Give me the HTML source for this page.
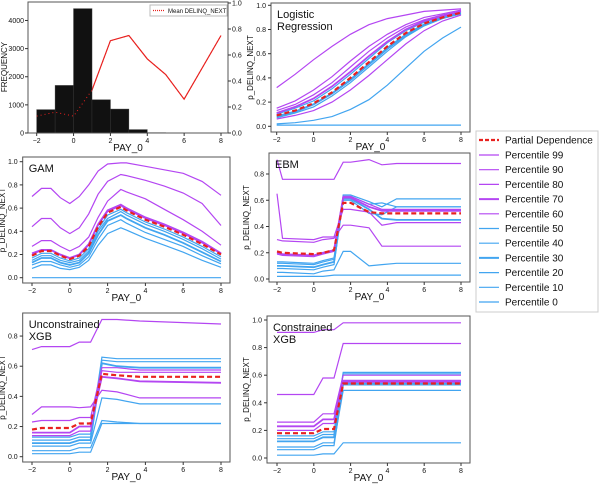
<!DOCTYPE html>
<html><head><meta charset="utf-8"><style>
body{margin:0;background:#fff;width:600px;height:486px;overflow:hidden;font-family:"Liberation Sans",sans-serif}
svg text{font-family:"Liberation Sans",sans-serif}
</style></head><body>
<svg id="c" width="600" height="486" xmlns="http://www.w3.org/2000/svg"></svg>
<script>
// ---- histogram panel data ----
const histBins = [-2,-1,0,1,2,3,4,5];
const histCounts = [830,1690,4420,1180,850,120,12,5];
const meanX = [-2,-1,0,1,2,3,4,5,6,8];
const meanY = [0.13,0.16,0.13,0.33,0.71,0.75,0.57,0.45,0.26,0.75];
const freqTicks = [0,1000,2000,3000,4000];
const xTicks = [-2,0,2,4,6,8];
const seriesNames = ['Partial Dependence','Percentile 99','Percentile 90','Percentile 80','Percentile 70','Percentile 60','Percentile 50','Percentile 40','Percentile 30','Percentile 20','Percentile 10','Percentile 0'];
// ---- Logistic Regression ----
const lrX = [-2,-1,0,1,2,3,4,5,6,7,8];
const lrPD = [0.09,0.13,0.19,0.28,0.40,0.53,0.66,0.77,0.85,0.90,0.94];
const lr99 = [0.32,0.43,0.55,0.66,0.76,0.84,0.89,0.92,0.95,0.96,0.97];
const lr90 = [0.15,0.21,0.30,0.41,0.54,0.66,0.76,0.84,0.90,0.93,0.96];
const lr80 = [0.13,0.18,0.26,0.36,0.49,0.62,0.73,0.82,0.88,0.92,0.95];
const lr70 = [0.11,0.16,0.23,0.33,0.45,0.58,0.70,0.80,0.87,0.91,0.95];
const lr60 = [0.06,0.09,0.13,0.20,0.30,0.42,0.55,0.68,0.79,0.87,0.92];
const lr50 = [0.10,0.15,0.21,0.31,0.43,0.56,0.69,0.79,0.86,0.91,0.94];
const lr40 = [0.085,0.125,0.185,0.275,0.39,0.52,0.65,0.76,0.845,0.90,0.935];
const lr30 = [0.08,0.12,0.18,0.27,0.38,0.51,0.64,0.75,0.84,0.90,0.93];
const lr20 = [0.07,0.11,0.16,0.25,0.36,0.49,0.62,0.74,0.83,0.89,0.93];
const lr10 = [0.02,0.03,0.05,0.08,0.14,0.22,0.34,0.48,0.62,0.73,0.82];
const lr0 = [0.01,0.01,0.01,0.01,0.01,0.01,0.01,0.01,0.01,0.01,0.01];
// ---- GAM ----
const gamX = [-2,-1.5,-1,-0.5,0,0.5,1,1.5,2,2.7,3,4,5,6,7,8];
const gamPD = [0.19,0.23,0.23,0.19,0.16,0.19,0.27,0.44,0.56,0.61,0.58,0.50,0.44,0.37,0.29,0.20];
const gam99 = [0.70,0.77,0.77,0.69,0.64,0.70,0.80,0.92,0.98,0.99,0.99,0.96,0.93,0.90,0.83,0.71];
const gam90 = [0.44,0.51,0.51,0.43,0.38,0.43,0.55,0.72,0.83,0.89,0.88,0.84,0.79,0.73,0.64,0.45];
const gam80 = [0.27,0.32,0.32,0.27,0.23,0.27,0.35,0.52,0.66,0.76,0.74,0.68,0.59,0.50,0.40,0.28];
const gam70 = [0.21,0.24,0.24,0.20,0.17,0.20,0.29,0.46,0.58,0.63,0.60,0.52,0.46,0.39,0.31,0.21];
const gam60 = [0.20,0.235,0.235,0.195,0.165,0.195,0.28,0.45,0.57,0.62,0.59,0.51,0.45,0.38,0.30,0.205];
const gam50 = [0.17,0.21,0.21,0.17,0.145,0.17,0.25,0.42,0.54,0.59,0.56,0.48,0.42,0.35,0.27,0.18];
const gam40 = [0.15,0.19,0.19,0.15,0.13,0.15,0.23,0.40,0.51,0.57,0.54,0.46,0.40,0.33,0.25,0.16];
const gam30 = [0.13,0.17,0.17,0.13,0.11,0.13,0.21,0.37,0.49,0.54,0.51,0.43,0.37,0.30,0.22,0.14];
const gam20 = [0.11,0.14,0.14,0.11,0.09,0.11,0.18,0.33,0.45,0.50,0.47,0.39,0.33,0.27,0.19,0.12];
const gam10 = [0.08,0.11,0.11,0.08,0.07,0.09,0.15,0.28,0.38,0.43,0.41,0.34,0.28,0.22,0.15,0.09];
const gam0 = [0,0,0,0,0,0,0,0,0,0,0,0,0,0,0,0];
// ---- EBM ----
const ebmX = [-2,-1.7,0,0.5,1.1,1.6,2,3,3.7,4.5,8];
const ebmPD = [0.21,0.20,0.19,0.20,0.22,0.58,0.58,0.51,0.50,0.50,0.50];
const ebm99 = [0.91,0.76,0.76,0.76,0.76,0.89,0.89,0.91,0.87,0.88,0.88];
const ebm90 = [0.65,0.31,0.30,0.32,0.32,0.53,0.53,0.51,0.41,0.43,0.43];
const ebm80 = [0.30,0.29,0.28,0.30,0.31,0.41,0.41,0.39,0.25,0.25,0.25];
const ebm70 = [0.20,0.19,0.18,0.20,0.22,0.62,0.62,0.55,0.52,0.52,0.52];
const ebm60 = [0.19,0.18,0.17,0.19,0.21,0.63,0.63,0.57,0.53,0.53,0.53];
const ebm50 = [0.13,0.13,0.12,0.14,0.16,0.64,0.64,0.59,0.55,0.61,0.61];
const ebm40 = [0.12,0.12,0.11,0.13,0.15,0.63,0.63,0.57,0.58,0.55,0.55];
const ebm30 = [0.10,0.10,0.09,0.11,0.13,0.61,0.61,0.53,0.46,0.45,0.45];
const ebm20 = [0.08,0.08,0.07,0.09,0.11,0.60,0.60,0.50,0.49,0.55,0.55];
const ebm10 = [0.05,0.05,0.04,0.06,0.07,0.21,0.21,0.10,0.11,0.12,0.12];
const ebm0 = [0.02,0.02,0.02,0.02,0.03,0.03,0.03,0.03,0.03,0.03,0.03];
// ---- Unconstrained XGB ----
const uxX = [-2,-1.5,0,0.5,1.1,1.7,2.5,3.7,8];
const uxPD = [0.18,0.19,0.19,0.22,0.22,0.55,0.54,0.53,0.53];
const ux99 = [0.71,0.73,0.73,0.76,0.76,0.91,0.91,0.90,0.88];
const ux90 = [0.28,0.33,0.33,0.325,0.33,0.44,0.43,0.39,0.39];
const ux80 = [0.23,0.24,0.24,0.26,0.26,0.59,0.59,0.575,0.575];
const ux70 = [0.16,0.16,0.16,0.20,0.20,0.53,0.52,0.50,0.49];
const ux60 = [0.14,0.14,0.14,0.17,0.17,0.57,0.56,0.56,0.56];
const ux50 = [0.13,0.13,0.13,0.15,0.15,0.66,0.65,0.65,0.65];
const ux40 = [0.11,0.11,0.11,0.13,0.13,0.64,0.63,0.63,0.63];
const ux30 = [0.09,0.09,0.09,0.11,0.11,0.62,0.60,0.59,0.59];
const ux20 = [0.07,0.07,0.07,0.09,0.09,0.39,0.38,0.35,0.35];
const ux10 = [0.04,0.04,0.04,0.06,0.06,0.24,0.23,0.22,0.22];
const ux0 = [0.02,0.02,0.02,0.03,0.03,0.22,0.22,0.22,0.22];
// ---- Constrained XGB ----
const cxX = [-2,0,0.5,1.1,1.6,8];
const cxPD = [0.18,0.18,0.21,0.21,0.54,0.54];
const cx99 = [0.91,0.91,0.93,0.93,0.98,0.98];
const cx90 = [0.46,0.46,0.58,0.58,0.83,0.83];
const cx80 = [0.26,0.26,0.32,0.32,0.60,0.60];
const cx70 = [0.23,0.23,0.28,0.28,0.56,0.56];
const cx60 = [0.20,0.20,0.25,0.25,0.55,0.55];
const cx50 = [0.16,0.16,0.19,0.19,0.62,0.62];
const cx40 = [0.14,0.14,0.17,0.17,0.61,0.61];
const cx30 = [0.12,0.12,0.15,0.15,0.54,0.54];
const cx20 = [0.08,0.08,0.11,0.11,0.49,0.49];
const cx10 = [0.06,0.06,0.09,0.09,0.53,0.53];
const cx0 = [0.02,0.02,0.03,0.03,0.11,0.11];

const NS='http://www.w3.org/2000/svg';
const svg=document.getElementById('c');
const PUR='#b446f2', BLU='#42a5f0', RED='#e8211f';
function mk(tag,attrs,parent){const e=document.createElementNS(NS,tag);for(const k in attrs)e.setAttribute(k,attrs[k]);(parent||svg).appendChild(e);return e;}
function txt(s,x,y,size,anchor,parent,rot){const t=mk('text',{x:x,y:y,'font-size':size,'text-anchor':anchor||'start',fill:'#111'},parent);if(rot)t.setAttribute('transform','rotate(-90 '+x+' '+y+')');t.textContent=s;return t;}

function panel(name,box,xs,ys,yTicks,title,X,ser,ylabX){
  const g=mk('g',{});
  
  
  const fx=v=>xs[0]+(v+2)*xs[1], fy=v=>ys[0]-v*ys[1];
  const cols=[RED,PUR,PUR,PUR,PUR,PUR,BLU,BLU,BLU,BLU,BLU,BLU];
  for(let i=ser.length-1;i>=0;i--){
    const pts=X.map((x,j)=>fx(x).toFixed(1)+','+fy(ser[i][j]).toFixed(1)).join(' ');
    const pl=mk('polyline',{points:pts,fill:'none',stroke:cols[i],'stroke-width':i==0?2.2:(i==4||i==8?1.8:1.2)},g);
    if(i==0)pl.setAttribute('stroke-dasharray','5,3');
    
    
  }
  mk('rect',{x:box[0],y:box[1],width:box[2]-box[0],height:box[3]-box[1],fill:'none',stroke:'#555','stroke-width':1},g);
  xTicks.forEach(v=>{const x=fx(v);mk('line',{x1:x,x2:x,y1:box[3],y2:box[3]+3,stroke:'#333'},g);txt(v<0?'−'+(-v):String(v),x,box[3]+10,7,'middle',g);});
  yTicks.forEach(v=>{const y=fy(v);mk('line',{x1:box[0]-3,x2:box[0],y1:y,y2:y,stroke:'#333'},g);txt(v.toFixed(1),box[0]-5,y+2.5,7,'end',g);});
  const xl=txt('PAY_0',(box[0]+box[2])/2,box[3]+18,10,'middle',g);
  
  const yl=txt('p_DELINQ_NEXT',ylabX,(box[1]+box[3])/2,8,'middle',g,true);
  
  title.forEach((s,k)=>{const t=txt(s,box[0]+6,box[1]+15+k*12,11,'start',g);});
}

// ---- histogram panel ----
(function(){
  const g=mk('g',{});
  
  
  const fx=v=>36.7+(v+2)*18.43, fyL=v=>133-v*0.02813, fyR=v=>133-v*130;
  const mpts=meanX.map((x,j)=>fx(x).toFixed(1)+','+fyR(meanY[j]).toFixed(1)).join(' ');
  mk('polyline',{points:mpts,fill:'none',stroke:RED,'stroke-width':1.2},g);
  histBins.forEach((b,i)=>{
    const r=mk('rect',{x:fx(b),y:fyL(histCounts[i]),width:fx(b+1)-fx(b),height:133-fyL(histCounts[i]),fill:'#111',stroke:'#333','stroke-width':0.5},g);
    
    
  });
  const ml=mk('polyline',{points:mpts,fill:'none',stroke:RED,'stroke-width':1,'stroke-dasharray':'1,3'},g);
  
  
  mk('rect',{x:28,y:2,width:200,height:131,fill:'none',stroke:'#555'},g);
  xTicks.forEach(v=>{const x=fx(v);mk('line',{x1:x,x2:x,y1:133,y2:136,stroke:'#333'},g);txt(v<0?'−'+(-v):String(v),x,143,7,'middle',g);});
  freqTicks.forEach(v=>{const y=fyL(v);mk('line',{x1:25,x2:28,y1:y,y2:y,stroke:'#333'},g);txt(String(v),24,y+2.5,7,'end',g);});
  [0,0.2,0.4,0.6,0.8,1.0].forEach(v=>{const y=fyR(v);mk('line',{x1:228,x2:231,y1:y,y2:y,stroke:'#333'},g);txt(v.toFixed(1),232,y+2.5,7,'start',g);});
  txt('PAY_0',128,151,10,'middle',g);
  txt('FREQUENCY',7,67,8,'middle',g,true);
  const lg=mk('g',{},g);
  
  
  mk('rect',{x:150,y:5,width:77,height:11,fill:'#fff',stroke:'#bbb'},lg);
  mk('line',{x1:153,x2:164,y1:10.5,y2:10.5,stroke:RED,'stroke-width':1.2,'stroke-dasharray':'1,1'},lg);
  txt('Mean DELINQ_NEXT',168,13,6,'start',lg);
})();

panel('logistic-regression-panel',[271,3,470,132],[276.7,18.43],[126.3,121],[0,0.2,0.4,0.6,0.8,1.0],['Logistic','Regression'],lrX,[lrPD,lr99,lr90,lr80,lr70,lr60,lr50,lr40,lr30,lr20,lr10,lr0],253);
panel('gam-panel',[22.7,157,230,283],[32,18.9],[277.7,116],[0,0.2,0.4,0.6,0.8,1.0],['GAM'],gamX,[gamPD,gam99,gam90,gam80,gam70,gam60,gam50,gam40,gam30,gam20,gam10,gam0],5);
panel('ebm-panel',[269,153,470,282],[277,18.4],[279,131.25],[0,0.2,0.4,0.6,0.8],['EBM'],ebmX,[ebmPD,ebm99,ebm90,ebm80,ebm70,ebm60,ebm50,ebm40,ebm30,ebm20,ebm10,ebm0],249);
panel('unconstrained-xgb-panel',[22.7,313,230,462],[32,18.9],[456.7,150.8],[0,0.2,0.4,0.6,0.8],['Unconstrained','XGB'],uxX,[uxPD,ux99,ux90,ux80,ux70,ux60,ux50,ux40,ux30,ux20,ux10,ux0],5);
panel('constrained-xgb-panel',[267,316,470,463],[277,18.4],[458,138],[0,0.2,0.4,0.6,0.8,1.0],['Constrained','XGB'],cxX,[cxPD,cx99,cx90,cx80,cx70,cx60,cx50,cx40,cx30,cx20,cx10,cx0],249);

// ---- shared legend ----
(function(){
  const g=mk('g',{});
  
  
  mk('rect',{x:476,y:131,width:122,height:181,fill:'#fff',stroke:'#ccc'},g);
  const cols=[RED,PUR,PUR,PUR,PUR,PUR,BLU,BLU,BLU,BLU,BLU,BLU];
  seriesNames.forEach((s,i)=>{
    const y=i==0?140:155+(i-1)*14.7;
    const e=mk('g',{},g);
    
    
    const l=mk('line',{x1:479,x2:499,y1:y,y2:y,stroke:cols[i],'stroke-width':i==0?2.2:(i==4||i==8?2:1.2)},e);
    if(i==0)l.setAttribute('stroke-dasharray','4,2');
    txt(s,505,y+3.5,10,'start',e);
  });
})();
</script>
</body></html>
